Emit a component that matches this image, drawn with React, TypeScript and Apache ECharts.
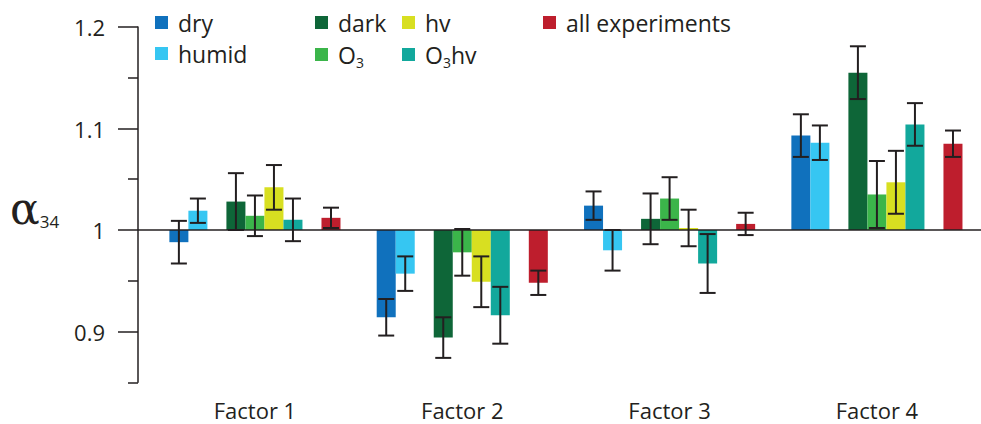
import React, { useEffect, useRef } from "react";
import * as echarts from "echarts";

// Factor groups along the x axis
const factors = ["Factor 1", "Factor 2", "Factor 3", "Factor 4"];

// Mean alpha_34 per condition and factor, with error half-widths
const dryValues = [0.988, 0.914, 1.024, 1.093];
const dryErrors = [0.021, 0.018, 0.014, 0.021];
const humidValues = [1.019, 0.957, 0.98, 1.086];
const humidErrors = [0.012, 0.017, 0.02, 0.017];
const darkValues = [1.028, 0.894, 1.011, 1.155];
const darkErrors = [0.028, 0.02, 0.025, 0.026];
const o3Values = [1.014, 0.978, 1.031, 1.035];
const o3Errors = [0.02, 0.023, 0.021, 0.033];
const hvValues = [1.042, 0.949, 1.002, 1.047];
const hvErrors = [0.022, 0.025, 0.018, 0.031];
const o3hvValues = [1.01, 0.916, 0.967, 1.104];
const o3hvErrors = [0.021, 0.028, 0.029, 0.021];
const allValues = [1.012, 0.948, 1.006, 1.085];
const allErrors = [0.01, 0.012, 0.011, 0.013];

// Axis ticks
const majorTicks = [0.9, 1, 1.1, 1.2];
const minorTicks = [0.85, 0.95, 1.05, 1.15];

const INK = "#231F20";
const FONT = "'Open Sans', sans-serif";
const SLOT = 0.0917; // width of one bar slot in x-axis units
const BASE = 1;

type SeriesDef = {
  name: string;
  values: number[];
  errors: number[];
  color: string;
  slot: number;
  legendLeft: number;
  legendTop: number;
};

const seriesDefs: SeriesDef[] = [
  { name: "dry", values: dryValues, errors: dryErrors, color: "#1071BD", slot: 0, legendLeft: 155, legendTop: 11 },
  { name: "humid", values: humidValues, errors: humidErrors, color: "#36C6F2", slot: 1, legendLeft: 155, legendTop: 42 },
  { name: "dark", values: darkValues, errors: darkErrors, color: "#0E6638", slot: 3, legendLeft: 315, legendTop: 11 },
  { name: "O3", values: o3Values, errors: o3Errors, color: "#3BB54A", slot: 4, legendLeft: 315, legendTop: 43 },
  { name: "hv", values: hvValues, errors: hvErrors, color: "#D8DF21", slot: 5, legendLeft: 402, legendTop: 11 },
  { name: "O3hv", values: o3hvValues, errors: o3hvErrors, color: "#12A89C", slot: 6, legendLeft: 402, legendTop: 43 },
  { name: "all experiments", values: allValues, errors: allErrors, color: "#BE1E2D", slot: 8, legendLeft: 543, legendTop: 11 },
];

function makeRenderItem(slot: number) {
  return (params: any, api: any) => {
    const x = api.value(0) + (slot - 4) * SLOT;
    const v = api.value(1);
    const e = api.value(2);
    const w = api.size([SLOT, 0])[0];
    const top = api.coord([x, v]);
    const base = api.coord([x, BASE]);
    const hi = api.coord([x, v + e]);
    const lo = api.coord([x, v - e]);
    const cap = 8;
    const lineStyle = { stroke: INK, lineWidth: 2 };
    return {
      type: "group",
      children: [
        {
          type: "rect",
          shape: {
            x: top[0] - w / 2,
            y: Math.min(top[1], base[1]),
            width: w,
            height: Math.abs(base[1] - top[1]),
          },
          style: { fill: api.visual("color") },
        },
        { type: "line", shape: { x1: hi[0], y1: hi[1], x2: lo[0], y2: lo[1] }, style: lineStyle },
        { type: "line", shape: { x1: hi[0] - cap, y1: hi[1], x2: hi[0] + cap, y2: hi[1] }, style: lineStyle },
        { type: "line", shape: { x1: lo[0] - cap, y1: lo[1], x2: lo[0] + cap, y2: lo[1] }, style: lineStyle },
      ],
    };
  };
}

const legendRich = {
  n: { fontSize: 23, fontFamily: FONT, color: INK },
  sub: { fontSize: 14, fontFamily: FONT, color: INK, verticalAlign: "bottom", padding: [15, 0, 0, 0] },
};

export default function App() {
  const ref = useRef<HTMLDivElement>(null);

  useEffect(() => {
    if (!ref.current) return;
    const chart = echarts.init(ref.current, null, { renderer: "svg" });

    const option: any = {
      animation: false,
      backgroundColor: "#ffffff",
      grid: { left: 138, right: 0, top: 27, bottom: 41.75, containLabel: false },
      legend: seriesDefs.map((s) => ({
        data: [s.name],
        left: s.legendLeft,
        top: s.legendTop,
        padding: 0,
        icon: "rect",
        itemWidth: 13,
        itemHeight: 13,
        selectedMode: false,
        formatter: (name: string) =>
          name.startsWith("O3") ? "{n|O}{sub|3}" + (name.length > 2 ? "{n|" + name.slice(2) + "}" : "") : name,
        textStyle: {
          fontSize: 23,
          fontFamily: FONT,
          color: INK,
          padding: [0, 0, 0, 5],
          rich: legendRich,
        },
      })),
      xAxis: {
        type: "value",
        min: 0.436,
        max: 4.502,
        axisLine: { show: false },
        axisTick: { show: false },
        splitLine: { show: false },
        axisLabel: {
          customValues: [1, 2, 3, 4],
          formatter: (v: number) => factors[Math.round(v) - 1],
          fontSize: 22,
          lineHeight: 22,
          fontFamily: FONT,
          color: INK,
          margin: 17,
        },
      },
      yAxis: [
        {
          type: "value",
          min: 0.85,
          max: 1.2,
          splitLine: { show: false },
          axisLine: { show: true, lineStyle: { color: INK, width: 1.5 } },
          axisTick: { show: true, customValues: majorTicks, length: 20, lineStyle: { color: INK, width: 1.5 } },
          axisLabel: {
            customValues: majorTicks,
            formatter: (v: number) => String(Number(v.toFixed(2))),
            fontSize: 22,
            fontFamily: FONT,
            color: INK,
            margin: 33,
          },
        },
        {
          type: "value",
          min: 0.85,
          max: 1.2,
          position: "left",
          splitLine: { show: false },
          axisLine: { show: false },
          axisTick: { show: true, customValues: minorTicks, length: 10, lineStyle: { color: INK, width: 1.5 } },
          axisLabel: { show: false },
        },
      ],
      graphic: [
        {
          type: "text",
          left: 10,
          top: 186,
          style: {
            text: "{a|α}{s|34}",
            rich: {
              a: { fontSize: 44, fontFamily: "'DejaVu Serif', serif", fill: INK, color: INK },
              s: { fontSize: 17, fontFamily: FONT, fill: INK, color: INK, verticalAlign: "bottom", padding: [18, 0, 0, 0] },
            },
          },
        },
      ],
      series: [
        {
          type: "line",
          name: "baseline",
          data: [],
          markLine: {
            silent: true,
            symbol: "none",
            label: { show: false },
            lineStyle: { color: INK, width: 1.5, type: "solid" },
            data: [{ yAxis: BASE }],
          },
        },
        ...seriesDefs.map((s) => ({
          type: "custom",
          name: s.name,
          itemStyle: { color: s.color },
          encode: { x: 0, y: 1 },
          data: factors.map((_, i) => [i + 1, s.values[i], s.errors[i]]),
          renderItem: makeRenderItem(s.slot),
        })),
      ],
    };

    chart.setOption(option);
    return () => chart.dispose();
  }, []);

  return (
    <div
      ref={ref}
      style={{ position: "fixed", left: 0, top: 0, width: 981, height: 424, background: "#fff" }}
    />
  );
}
